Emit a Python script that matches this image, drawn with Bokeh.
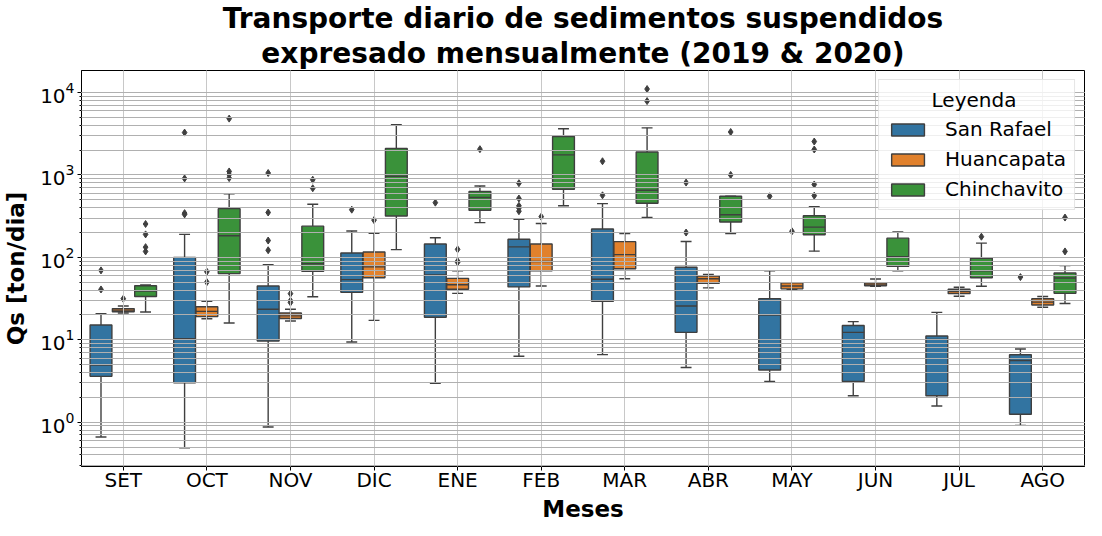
from bokeh.plotting import figure
from bokeh.models import Range1d, FactorRange, ColumnDataSource, Title
from bokeh.transform import dodge
from bokeh.embed import file_html
from bokeh.resources import INLINE

months = ["SET", "OCT", "NOV", "DIC", "ENE", "FEB", "MAR", "ABR", "MAY", "JUN", "JUL", "AGO"]
stations = ["San Rafael", "Huancapata", "Chinchavito"]

# San Rafael
sr_lo = [0.66, 0.49, 0.875, 9.4, 2.96, 6.3, 6.6, 4.6, 3.12, 2.09, 1.57, 0.915]
sr_q1 = [3.6, 3.0, 9.66, 37.6, 18.8, 43.8, 29.3, 12.3, 4.3, 3.12, 2.09, 1.25]
sr_med = [4.95, 10.3, 23.5, 53.7, 61.3, 134, 54.2, 25.7, 20, 12.3, 10.1, 5.61]
sr_q3 = [15.1, 100, 45, 113, 145, 166, 221, 75.9, 31.5, 14.9, 11.1, 6.58]
sr_hi = [20.7, 190, 81.5, 209, 173, 290, 449, 156, 68.8, 16.6, 21.5, 7.73]
sr_out = [[69.5, 40.8], [3264, 907, 344, 332], [1055, 350, 160, 122], [379], [461],
          [794, 518, 422, 397, 363], [1466, 566], [808, 200], [551], [], [], [57.6]]

# Huancapata
hu_lo = [21.1, 18, 16.9, 17.2, 36.6, 45, 55.1, 42.6, 40.4, 44.5, 33.8, 24.8]
hu_q1 = [21.9, 19.1, 18.1, 56.6, 41.1, 68.8, 72.6, 48.6, 41.5, 45.3, 36.3, 26.4]
hu_med = [22.9, 22.1, 19.5, 76.6, 46.6, 89, 108, 55.1, 45, 47.4, 38.6, 28.6]
hu_q3 = [23.9, 25.2, 21.1, 116, 55.6, 145, 155, 59.2, 49.1, 49, 41.1, 31.5]
hu_hi = [25.7, 29.3, 23.5, 196, 68.8, 257, 195, 61.9, 49.1, 54.6, 43.4, 33.5]
hu_out = [[31.5], [67, 50], [36.3, 29.8, 28.3], [283], [125, 90, 87], [312], [], [], [207], [], [], []]

# Chinchavito
ch_lo = [21.7, 16, 33.2, 124, 264, 422, 304, 195, 119, 68.8, 44.6, 27.5]
ch_q1 = [33.5, 63.5, 67.6, 318, 373, 670, 453, 268, 188, 78, 56.6, 36.6]
ch_med = [39, 183, 83.7, 965, 532, 1750, 653, 329, 233, 102, 68.8, 56.1]
ch_q3 = [45.3, 390, 239, 2091, 630, 2931, 1897, 551, 320, 171, 97.3, 64.7]
ch_hi = [46.3, 592, 441, 4074, 733, 3631, 3727, 551, 411, 204, 149, 79.4]
ch_out = [[254, 190, 133, 118], [4823, 1102, 1009, 915], [875, 689], [], [2054], [],
          [11020, 7870], [3319, 1000], [2543, 2036, 766, 561], [660], [178], [304, 118]]

colors = ["#3274a1", "#e1812c", "#3a923a"]
edge = "#3f3f3f"
FONT = "DejaVu Sans"

p = figure(width=1086, height=520, output_backend="svg", toolbar_location=None,
           x_range=FactorRange(factors=months), y_axis_type="log",
           y_range=Range1d(0.29, 18500))
p.min_border_left = 71
p.min_border_right = 2
p.min_border_bottom = 0
p.min_border_top = 0

series = [
    (stations[0], sr_lo, sr_q1, sr_med, sr_q3, sr_hi, sr_out, colors[0], -0.2667),
    (stations[1], hu_lo, hu_q1, hu_med, hu_q3, hu_hi, hu_out, colors[1], 0.0),
    (stations[2], ch_lo, ch_q1, ch_med, ch_q3, ch_hi, ch_out, colors[2], 0.2667),
]

bw = 0.261
cw = bw / 2
for name, lo, q1, med, q3, hi, outs, col, off in series:
    src = ColumnDataSource(dict(m=months, lo=lo, q1=q1, med=med, q3=q3, hi=hi))
    xc = dodge("m", off, range=p.x_range)
    p.segment(x0=xc, y0="q3", x1=xc, y1="hi", source=src, line_color=edge, line_width=1.4)
    p.segment(x0=xc, y0="q1", x1=xc, y1="lo", source=src, line_color=edge, line_width=1.4)
    p.segment(x0=dodge("m", off - cw / 2, range=p.x_range), y0="hi",
              x1=dodge("m", off + cw / 2, range=p.x_range), y1="hi",
              source=src, line_color=edge, line_width=1.4)
    p.segment(x0=dodge("m", off - cw / 2, range=p.x_range), y0="lo",
              x1=dodge("m", off + cw / 2, range=p.x_range), y1="lo",
              source=src, line_color=edge, line_width=1.4)
    p.vbar(x=xc, width=bw, bottom="q1", top="q3", source=src, fill_color=col,
           line_color=edge, line_width=1.4, legend_label=name)
    p.segment(x0=dodge("m", off - bw / 2, range=p.x_range), y0="med",
              x1=dodge("m", off + bw / 2, range=p.x_range), y1="med",
              source=src, line_color=edge, line_width=1.4)
    om, ov = [], []
    for mth, vals in zip(months, outs):
        for v in vals:
            om.append(mth)
            ov.append(v)
    osrc = ColumnDataSource(dict(m=om, v=ov))
    p.scatter(x=dodge("m", off, range=p.x_range), y="v", source=osrc, marker="diamond",
              size=7, fill_color=edge, line_color=edge)

# grids drawn above boxes
p.xgrid.grid_line_color = "#c8c8c8"
p.xgrid.grid_line_width = 1
p.xgrid.level = "guide"
p.ygrid.grid_line_color = "#b0b0b0"
p.ygrid.minor_grid_line_color = "#b0b0b0"
p.ygrid.grid_line_width = 1
p.ygrid.minor_grid_line_width = 1
p.ygrid.level = "guide"

p.outline_line_color = "black"
p.outline_line_width = 1

for ax in (p.xaxis[0], p.yaxis[0]):
    ax.major_label_text_font = FONT
    ax.major_label_text_font_size = "20px"
    ax.major_label_text_color = "black"
    ax.axis_label_text_font = FONT
    ax.axis_label_text_font_size = "23px"
    ax.axis_label_text_font_style = "bold"
    ax.axis_label_text_color = "black"
    ax.axis_line_color = "black"
    ax.major_tick_line_color = "black"
    ax.minor_tick_line_color = "black"
    ax.major_tick_out = 4
    ax.major_tick_in = 0
    ax.minor_tick_out = 2
    ax.minor_tick_in = 0

p.xaxis.major_label_standoff = -3
p.yaxis.axis_label = "Qs [ton/dia]"
p.yaxis.major_label_standoff = 3
p.yaxis.axis_label_standoff = 8

# x-axis title as a title panel below the axis
p.add_layout(Title(text="Meses", align="center", text_font=FONT, text_font_size="23px",
                   text_font_style="bold", text_color="black", text_line_height=0.85,
                   standoff=-2, offset=0), "below")

p.add_layout(Title(text="expresado mensualmente (2019 & 2020)", align="center",
                   text_font=FONT, text_font_size="28px", text_font_style="bold",
                   text_color="black", standoff=2, offset=0), "above")
p.add_layout(Title(text="Transporte diario de sedimentos suspendidos", align="center",
                   text_font=FONT, text_font_size="28px", text_font_style="bold",
                   text_color="black", standoff=-2, offset=0), "above")

lg = p.legend[0]
lg.location = "top_right"
lg.margin = 9
lg.title = "\u00a0" * 7 + "Leyenda"
lg.title_text_font = FONT
lg.title_text_font_size = "20px"
lg.title_text_font_style = "normal"
lg.title_text_color = "black"
lg.label_text_font = FONT
lg.label_text_font_size = "20px"
lg.label_text_color = "black"
lg.glyph_width = 41
lg.glyph_height = 15
lg.label_standoff = 17
lg.label_height = 24
lg.spacing = 6
lg.padding = 8
lg.background_fill_alpha = 0.8
lg.border_line_color = "#cccccc"

open("out.html", "w").write(file_html(p, INLINE))
